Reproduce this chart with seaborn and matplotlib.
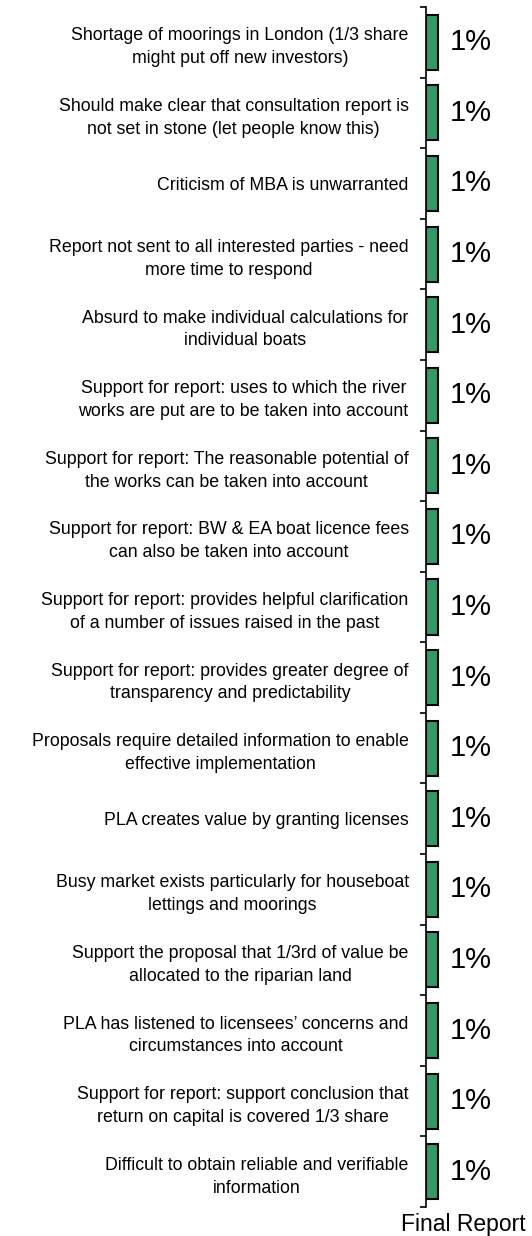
import matplotlib
matplotlib.use("Agg")
import numpy as np
import pandas as pd
import seaborn as sns
import matplotlib.pyplot as plt

# Data
labels = [
    "Shortage of moorings in London (1/3 share\nmight put off new investors)",
    "Should make clear that consultation report is\nnot set in stone (let people know this)",
    "Criticism of MBA is unwarranted",
    "Report not sent to all interested parties - need\nmore time to respond",
    "Absurd to make individual calculations for\nindividual boats",
    "Support for report: uses to which the river\nworks are put are to be taken into account",
    "Support for report: The reasonable potential of\nthe works can be taken into account",
    "Support for report: BW & EA boat licence fees\ncan also be taken into account",
    "Support for report: provides helpful clarification\nof a number of issues raised in the past",
    "Support for report: provides greater degree of\ntransparency and predictability",
    "Proposals require detailed information to enable\neffective implementation",
    "PLA creates value by granting licenses",
    "Busy market exists particularly for houseboat\nlettings and moorings",
    "Support the proposal that 1/3rd of value be\nallocated to the riparian land",
    "PLA has listened to licensees\u2019 concerns and\ncircumstances into account",
    "Support for report: support conclusion that\nreturn on capital is covered 1/3 share",
    "Difficult to obtain reliable and verifiable\ninformation",
]
values = [1] * len(labels)  # percent
series_name = "Final Report"

sns.set_theme(style="white", rc={"text.color": "black", "axes.labelcolor": "black",
                                 "xtick.color": "black", "ytick.color": "black"})
plt.rcParams['font.family'] = ['Liberation Sans', 'DejaVu Sans']

df = pd.DataFrame({"comment": labels, "pct": values})

fig = plt.figure(figsize=(5.32, 12.36), dpi=100)
ax = fig.add_axes([426 / 532, 29 / 1236, 74 / 532, 1200 / 1236])

sns.barplot(data=df, x="pct", y="comment", orient="h", color="#339966",
            edgecolor="black", linewidth=1.5, width=0.78, saturation=1, ax=ax)

ax.set_xlim(0, 6)
ax.set_ylim(len(labels) - 0.5, -0.5)

# value labels
for c in ax.containers:
    ax.bar_label(c, labels=[f"{v:g}%" for v in values], padding=8.5,
                 fontsize=21, color="black")

# axis styling
for s in ["top", "right", "bottom"]:
    ax.spines[s].set_visible(False)
ax.spines["left"].set_color("black")
ax.spines["left"].set_linewidth(1.2)
ax.set_xticks([])
ax.set_yticks(np.arange(len(labels)))
ax.set_yticklabels(labels, fontsize=12.8, multialignment="center", color="black")
for t in ax.get_yticklabels():
    t.set_linespacing(1.45)
ax.set_yticks(np.arange(len(labels) + 1) - 0.5, minor=True)
ax.tick_params(axis="y", which="major", length=0, pad=12.5)
ax.tick_params(axis="y", which="minor", length=4.5, width=1.2, color="black",
               direction="out", left=True)
ax.set_ylabel("")
ax.set_xlabel(series_name, fontsize=16.5, labelpad=4, color="black")

fig.savefig("out.png", dpi=100)
